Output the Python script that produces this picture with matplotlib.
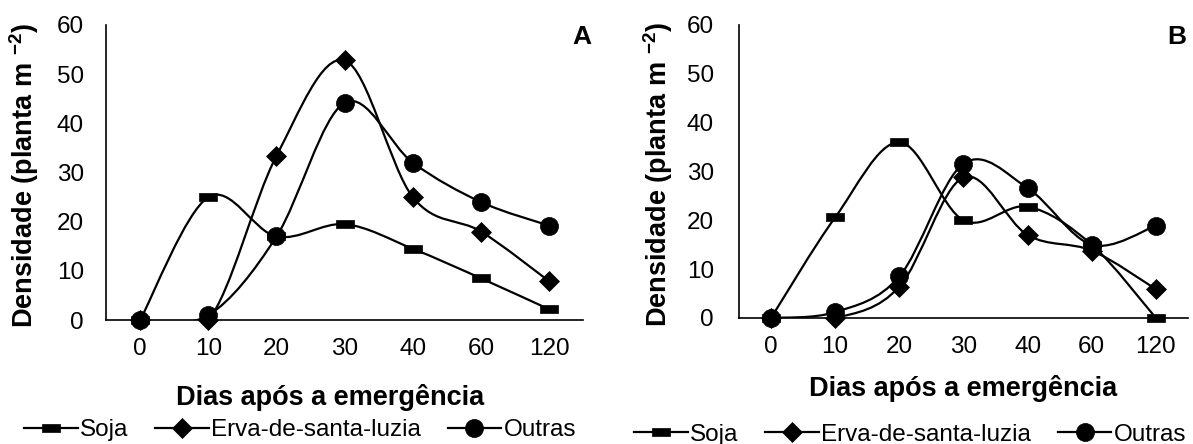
import numpy as np
import matplotlib

matplotlib.use("Agg")
import matplotlib.pyplot as plt
from matplotlib.path import Path
from matplotlib.patches import PathPatch
from matplotlib.lines import Line2D

plt.rcParams["font.family"] = ["Liberation Sans", "DejaVu Sans"]
plt.rcParams["mathtext.fontset"] = "custom"
plt.rcParams["mathtext.rm"] = "Liberation Sans"
plt.rcParams["mathtext.bf"] = "Liberation Sans:bold"

# ---- data (densidade, plantas m-2) ----
dias = ["0", "10", "20", "30", "40", "60", "120"]

soja_a = [0, 25, 17, 19.5, 14.5, 8.5, 2.2]
erva_a = [0, 0, 33.4, 52.8, 25, 18, 7.9]
outras_a = [0, 1, 17, 44.2, 32, 24, 19.2]

soja_b = [0, 20.6, 36, 20, 22.8, 15, 0]
erva_b = [0, 0, 6.4, 28.8, 17, 13.8, 5.9]
outras_b = [0, 1.2, 8.5, 31.6, 26.6, 15, 18.9]

series_names = ["Soja", "Erva-de-santa-luzia", "Outras"]

# rectangular "dash" marker used for Soja
dash = [(-1, -0.42), (1, -0.42), (1, 0.42), (-1, 0.42), (-1, -0.42)]
markers = [dash, "D", "o"]
msizes = [13.5, 10.0, 13.0]

FS = 17.5   # ticks / legend
FSB = 19.5  # axis titles


def smooth_path(ys):
    # Excel-like smoothed line (Catmull-Rom as cubic Bezier)
    pts = np.column_stack([np.arange(len(ys), dtype=float), np.asarray(ys, float)])
    n = len(pts)
    verts = [pts[0]]
    codes = [Path.MOVETO]
    for i in range(n - 1):
        p0 = pts[max(i - 1, 0)]
        p1 = pts[i]
        p2 = pts[i + 1]
        p3 = pts[min(i + 2, n - 1)]
        verts += [p1 + (p2 - p0) / 6, p2 - (p3 - p1) / 6, p2]
        codes += [Path.CURVE4] * 3
    return Path(verts, codes)


def draw_panel(ax, data, ypad, xlab_xy, ylab_x):
    for ys, mk, ms in zip(data, markers, msizes):
        ax.add_patch(PathPatch(smooth_path(ys), fill=False, lw=1.6, ec="black"))
        ax.plot(range(len(ys)), ys, ls="none", marker=mk, ms=ms, color="black",
                mew=0.5, zorder=3, clip_on=False)
    ax.set_xlim(-0.5, len(dias) - 0.5)
    ax.set_ylim(0, 60)
    ax.set_yticks(range(0, 61, 10))
    ax.set_xticks(range(len(dias)))
    ax.set_xticklabels(dias)
    ax.tick_params(axis="both", length=0, labelsize=FS)
    ax.tick_params(axis="x", pad=13)
    ax.tick_params(axis="y", pad=ypad)
    for s in ["top", "right"]:
        ax.spines[s].set_visible(False)
    for s in ["left", "bottom"]:
        ax.spines[s].set_linewidth(1.2)
    ax.set_ylabel(r"Densidade (planta m $^{\mathbf{-2}}$)", fontsize=FSB,
                  fontweight="bold")
    ax.yaxis.set_label_coords(ylab_x, 0.49)
    ax.set_xlabel("Dias após a emergência", fontsize=FSB, fontweight="bold")
    ax.xaxis.set_label_coords(*xlab_xy)


fig = plt.figure(figsize=(11.93, 4.44), dpi=100)
ax_a = fig.add_axes([0.0889, 0.279, 0.4, 0.6648])
ax_b = fig.add_axes([0.6194, 0.2838, 0.3764, 0.6599])

draw_panel(ax_a, [soja_a, erva_a, outras_a], 16, (0.47, -0.215), -0.137)
draw_panel(ax_b, [soja_b, erva_b, outras_b], 18, (0.5, -0.195), -0.142)

fig.text(582 / 1193, 1 - 37 / 444, "A", fontsize=19, fontweight="bold",
         ha="center", va="center")
fig.text(1177 / 1193, 1 - 37 / 444, "B", fontsize=19, fontweight="bold",
         ha="center", va="center")

handles = [Line2D([], [], color="black", lw=1.6, marker=mk, ms=ms, mew=0.5)
           for mk, ms in zip(markers, msizes)]
for ax, cx, cy in [(ax_a, 0.2515, 0.0315), (ax_b, 0.763, 0.021)]:
    ax.legend(handles, series_names, loc="center", bbox_to_anchor=(cx, cy),
              bbox_transform=fig.transFigure, ncol=3, frameon=False,
              fontsize=FS, handlelength=2.2, handletextpad=0.1,
              columnspacing=1.1, borderpad=0, borderaxespad=0)

fig.savefig("out.png", dpi=100)
